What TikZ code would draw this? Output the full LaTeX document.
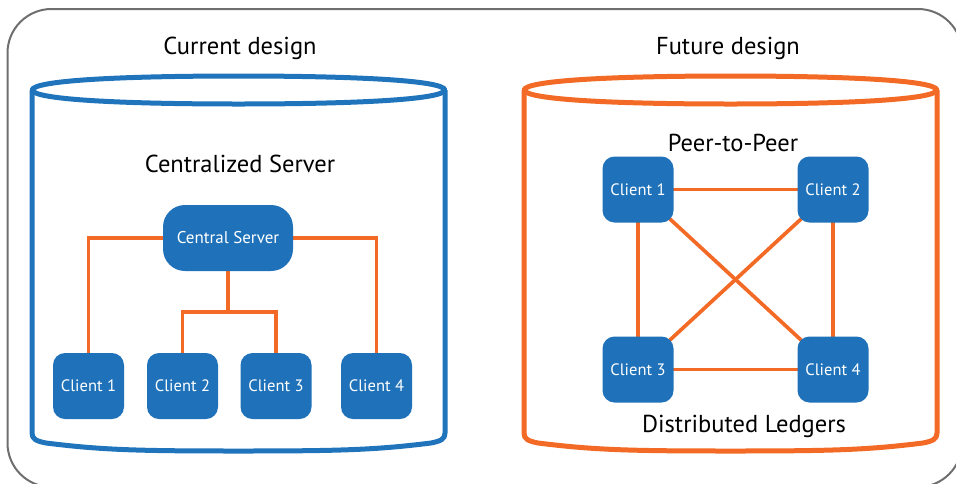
\documentclass[tikz,border=0pt]{standalone}
\usepackage{fontspec}
\setmainfont{PT Sans}
\usetikzlibrary{backgrounds}
\definecolor{cylblue}{HTML}{1F74BB}
\definecolor{nodeblue}{HTML}{1F72B9}
\definecolor{cylorange}{HTML}{F26A25}
\definecolor{framegray}{HTML}{6E6E70}
\tikzset{
  cylinderoutline/.pic={
    \draw[line width=5pt, line join=round]
      (0,90) .. controls (2,80) and (96,76) .. (206.5,76)
      .. controls (317,76) and (411,80) .. (413,90)
      .. controls (411,100) and (317,104) .. (206.5,104)
      .. controls (96,104) and (2,100) .. (0,90) -- cycle;
    \draw[line width=5pt, line join=round]
      (0,90) -- (0,433) .. controls (0,439) and (4,441) .. (14,443)
      .. controls (70,450) and (106,451) .. (206.5,451)
      .. controls (307,451) and (343,450) .. (399,443)
      .. controls (409,441) and (413,439) .. (413,433) -- (413,90);
  },
  title/.style={font=\fontsize{24.5}{28}\selectfont, text=black, anchor=base, inner sep=0pt},
  client/.style={fill=nodeblue, rounded corners=12pt, minimum width=71pt, minimum height=66pt,
    inner sep=0pt, text=white, font=\fontsize{16.5}{20}\selectfont},
  server/.style={client, rounded corners=22pt, minimum width=130pt, font=\fontsize{17}{20}\selectfont},
  link/.style={draw=cylorange, line width=3.7pt}
}
\begin{document}
\begin{tikzpicture}[x=1pt, y=-1pt]
\useasboundingbox (0,0) rectangle (956,483);
% outer frame
\draw[framegray, line width=2pt, rounded corners=44pt] (7.5,9) rectangle (962,487);
% cylinders
\pic[color=cylblue] at (32,0) {cylinderoutline};
\pic[color=cylorange] at (524,0) {cylinderoutline};
% titles
\node[title] (t1) at (240,54) {Current design};
\node[title] (t2) at (728,54) {Future design};
\node[title] (t3) at (240,172) {Centralized Server};
\node[title] (t4) at (733,151) {Peer-to-Peer};
\node[title] (t5) at (744,432) {Distributed Ledgers};
% left: centralized
\node[server] (cs) at (228,238) {Central Server};
\node[client] (c1) at (88.5,386) {Client 1};
\node[client] (c2) at (182.5,386) {Client 2};
\node[client] (c3) at (276,386) {Client 3};
\node[client] (c4) at (376.5,386) {Client 4};
\coordinate (j) at (228,312);
\begin{scope}[on background layer]
\draw[link] (cs.west) -| (c1.north);
\draw[link] (cs.east) -| (c4.north);
\draw[link] (cs.south) -- (j);
\draw[link] (c2.north) |- (j) -| (c3.north);
\end{scope}
% right: peer-to-peer
\node[client] (p1) at (638,189.5) {Client 1};
\node[client] (p2) at (833,189.5) {Client 2};
\node[client] (p3) at (638,369.5) {Client 3};
\node[client] (p4) at (833,369.5) {Client 4};
\begin{scope}[on background layer]
\draw[link] (p1.center) -- (p2.center);
\draw[link] (p3.center) -- (p4.center);
\draw[link] (p1.center) -- (p3.center);
\draw[link] (p2.center) -- (p4.center);
\draw[link] (p1.center) -- (p4.center);
\draw[link] (p2.center) -- (p3.center);
\end{scope}
\end{tikzpicture}
\end{document}
